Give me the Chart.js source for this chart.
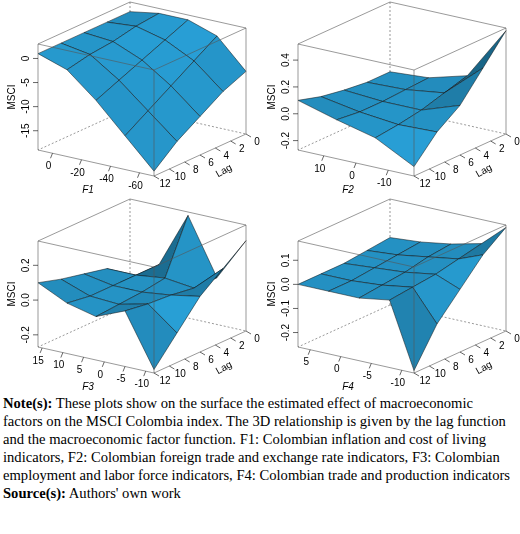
<!DOCTYPE html>
<html><head><meta charset="utf-8">
<script src="https://cdn.jsdelivr.net/npm/chart.js@4"></script>
<style>
body{margin:0;background:#fff;width:520px;font-family:"Liberation Serif",serif}
.grid{position:relative;width:520px;height:394px}
.grid canvas{position:absolute}
.note{font-size:14.6px;line-height:18px;padding:0 4px 0 3px;color:#000}
</style></head><body>
<div class="grid">
<canvas id="p1" width="260" height="197" style="left:0;top:0"></canvas>
<canvas id="p2" width="260" height="197" style="left:260px;top:0"></canvas>
<canvas id="p3" width="260" height="197" style="left:0;top:197px"></canvas>
<canvas id="p4" width="260" height="197" style="left:260px;top:197px"></canvas>
</div>
<div class="note"><b>Note(s):</b> These plots show on the surface the estimated effect of macroeconomic factors on the MSCI Colombia index. The 3D relationship is given by the lag function and the macroeconomic factor function. F1: Colombian inflation and cost of living indicators, F2: Colombian foreign trade and exchange rate indicators, F3: Colombian employment and labor force indicators, F4: Colombian trade and production indicators<br><b>Source(s):</b> Authors' own work</div>
<script>
// lag grid (shared), front (12) to back (0)
const lags = [12, 9, 6, 3, 0];
const lagTicks = [0, 2, 4, 6, 8, 10, 12];

// panel 1: F1
const f1 = [10, -10, -30, -50, -70];
const f1Ticks = [0, -20, -40, -60];
const z1Ticks = [0, -5, -10, -15];
const msci1 = [
  [1, -1, -6, -12, -18],
  [1, 0, -4, -9, -14],
  [1, 0.5, -2, -6, -11],
  [1, 1.5, 0, -3, -8],
  [1, 2, 2, 0, -6]
];
// panel 2: F2
const f2 = [18, 6, -6, -18];
const f2Ticks = [10, 0, -10];
const z2Ticks = [-0.2, 0.0, 0.2, 0.4];
const msci2 = [
  [0.1, 0.02, -0.05, -0.2],
  [0.05, 0.0, -0.03, -0.02],
  [0.02, 0.0, 0.0, 0.1],
  [0.0, 0.01, 0.05, 0.3],
  [0.0, 0.02, 0.1, 0.5]
];
// panel 3: F3
const f3 = [16, 9, 2, -5, -12];
const f3Ticks = [15, 10, 5, 0, -5, -10];
const z3Ticks = [-0.2, 0.0, 0.2];
const msci3 = [
  [0.1, 0.02, -0.02, 0.05, -0.25],
  [0.06, 0.0, -0.01, 0.03, -0.1],
  [0.03, 0.0, 0.0, 0.02, 0.05],
  [0.0, 0.0, 0.02, 0.0, 0.15],
  [-0.2, 0.0, 0.32, 0.0, 0.25]
];
// panel 4: F4
const f4 = [7, 2, -3, -8, -12];
const f4Ticks = [5, 0, -5, -10];
const z4Ticks = [-0.2, -0.1, 0.0, 0.1];
const msci4 = [
  [0.0, 0.0, 0.0, 0.02, -0.25],
  [0.0, 0.0, 0.01, 0.03, -0.1],
  [0.0, 0.01, 0.02, 0.04, 0.0],
  [0.01, 0.02, 0.04, 0.06, 0.1],
  [0.02, 0.03, 0.05, 0.08, 0.17]
];

const L = {x: 38, y: 150}, A = {x: 116, y: 26}, B = {x: 92, y: -42}, H = 106;

function makePanel(id, fx, fTicks, zTicks, zmin, zmax, grid, fname) {
  const fu = f => (fx[0] - f) / (fx[0] - fx[fx.length - 1]);
  const lv = g => (12 - g) / 12;
  const zw = z => (z - zmin) / (zmax - zmin);
  const proj = (u, v, w) => ({x: L.x + u * A.x + v * B.x, y: L.y + u * A.y + v * B.y - w * H});
  const surf = {
    id: 'surf' + id,
    afterDatasetsDraw(chart) {
      const c = chart.ctx, sx = chart.scales.x, sy = chart.scales.y;
      const P = (u, v, w) => { const p = proj(u, v, w); return [sx.getPixelForValue(p.x), sy.getPixelForValue(p.y)]; };
      c.save();
      c.strokeStyle = '#555'; c.lineWidth = 0.6;
      const line = (a, b, dash) => { c.setLineDash(dash ? [2, 2] : []); c.beginPath(); c.moveTo(...a); c.lineTo(...b); c.stroke(); };
      line(P(0,1,0), P(1,1,0), true); line(P(0,1,0), P(0,0,0), true); line(P(0,1,0), P(0,1,1), true);
      const quads = [];
      for (let i = 0; i < lags.length - 1; i++) for (let j = 0; j < fx.length - 1; j++) {
        const pts = [[i,j],[i,j+1],[i+1,j+1],[i+1,j]].map(([a, b]) => [fu(fx[b]), lv(lags[a]), Math.max(0, Math.min(1, zw(grid[a][b])))]);
        const d1 = pts[2].map((q, k) => q - pts[0][k]), d2 = pts[3].map((q, k) => q - pts[1][k]);
        const n = [d1[1]*d2[2]-d1[2]*d2[1], d1[2]*d2[0]-d1[0]*d2[2], d1[0]*d2[1]-d1[1]*d2[0]];
        const nl = Math.hypot(...n) || 1;
        const lit = Math.abs((n[0]*0.3 - n[1]*0.4 + n[2]*0.85) / nl);
        const depth = pts.reduce((s, q) => s + q[0] + 1 - q[1], 0);
        quads.push({pts, lit, depth});
      }
      quads.sort((a, b) => a.depth - b.depth);
      quads.forEach(q => {
        const k = 0.35 + 0.65 * q.lit;
        c.fillStyle = `rgb(${Math.round(40*k)},${Math.round(160*k)},${Math.round(215*k)})`;
        c.beginPath(); q.pts.forEach((p, n) => { const s = P(...p); n ? c.lineTo(...s) : c.moveTo(...s); });
        c.closePath(); c.fill(); c.setLineDash([]); c.strokeStyle = '#111'; c.lineWidth = 0.5; c.stroke();
      });
      c.strokeStyle = '#555'; c.lineWidth = 0.6;
      line(P(0,0,0), P(1,0,0)); line(P(1,0,0), P(1,1,0)); line(P(0,0,1), P(1,0,1)); line(P(1,0,1), P(1,1,1));
      line(P(0,1,1), P(1,1,1)); line(P(0,0,1), P(0,1,1)); line(P(0,0,0), P(0,0,1)); line(P(1,0,0), P(1,0,1)); line(P(1,1,0), P(1,1,1));
      c.setLineDash([]); c.strokeStyle = '#000'; c.fillStyle = '#000';
      c.font = '10px "Liberation Sans", sans-serif';
      c.textAlign = 'center'; c.textBaseline = 'middle';
      zTicks.forEach(t => { const a = P(0,0,zw(t)); line(a, [a[0]-5, a[1]]); c.save(); c.translate(a[0]-12, a[1]); c.rotate(-Math.PI/2); c.fillText(zmax < 1 ? t.toFixed(1) : t, 0, 0); c.restore(); });
      fTicks.forEach(t => { const a = P(fu(t),0,0); line(a, [a[0]-2, a[1]+5]); c.fillText(t, a[0]-4, a[1]+13); });
      lagTicks.forEach(t => { const a = P(1,lv(t),0); line(a, [a[0]+5, a[1]+3]); c.fillText(t, a[0]+11, a[1]+8); });
      const zm = P(0,0,0.5); c.save(); c.translate(zm[0]-26, zm[1]); c.rotate(-Math.PI/2); c.fillText('MSCI', 0, 0); c.restore();
      const fm = P(0.5,0,0); c.font = 'italic 10px "Liberation Sans", sans-serif'; c.fillText(fname, fm[0]-8, fm[1]+27);
      const lm = P(1,0.5,0); c.font = '10px "Liberation Sans", sans-serif'; c.save(); c.translate(lm[0]+24, lm[1]+16); c.rotate(-0.5); c.fillText('Lag', 0, 0); c.restore();
      c.restore();
    }
  };
  new Chart(document.getElementById(id), {
    type: 'scatter',
    data: {datasets: [{data: []}]},
    options: {
      responsive: false, animation: false,
      layout: {padding: 0},
      plugins: {legend: {display: false}, tooltip: {enabled: false}},
      scales: {
        x: {display: false, min: 0, max: 260},
        y: {display: false, min: 0, max: 197, reverse: true}
      }
    },
    plugins: [surf]
  });
}
makePanel('p1', f1, f1Ticks, z1Ticks, -19, 3, msci1, 'F1');
makePanel('p2', f2, f2Ticks, z2Ticks, -0.27, 0.52, msci2, 'F2');
makePanel('p3', f3, f3Ticks, z3Ticks, -0.27, 0.34, msci3, 'F3');
makePanel('p4', f4, f4Ticks, z4Ticks, -0.26, 0.18, msci4, 'F4');
</script>
</body></html>
